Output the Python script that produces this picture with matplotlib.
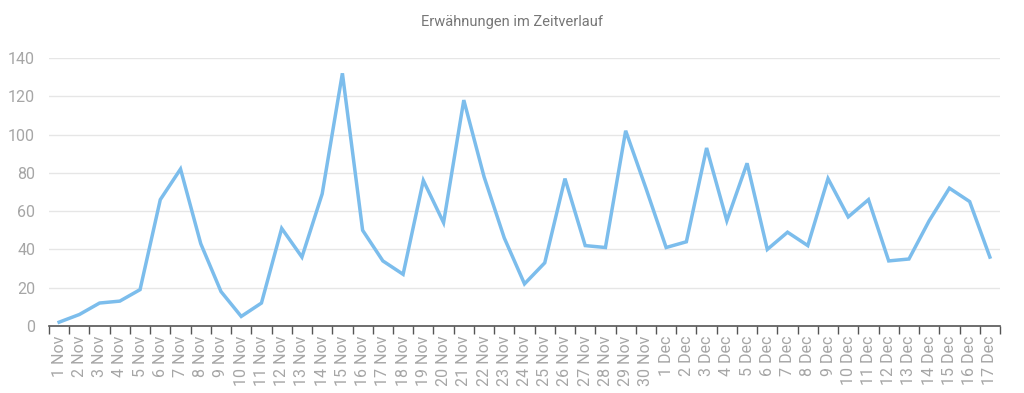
import matplotlib
matplotlib.use('Agg')
import matplotlib.pyplot as plt
import numpy as np

plt.rcParams['font.family'] = ['Roboto', 'DejaVu Sans']

days = [f"{d} Nov" for d in range(1, 31)] + [f"{d} Dec" for d in range(1, 18)]
mentions = [2, 6, 12, 13, 19, 66, 82, 43, 18, 5, 12, 51, 36, 69, 132, 50, 34, 27,
            76, 54, 118, 78, 46, 22, 33, 77, 42, 41, 102, 72,
            41, 44, 93, 55, 85, 40, 49, 42, 77, 57, 66, 34, 35, 55, 72, 65, 36]
y_ticks = [0, 20, 40, 60, 80, 100, 120, 140]

fig = plt.figure(figsize=(10.24, 3.93), dpi=100)
ax = fig.add_axes([49 / 1024, 1 - 326 / 393, (1000 - 49) / 1024, (326 - 58) / 393])

x = np.arange(len(days))
ax.plot(x, mentions, color='#7cbdec', linewidth=2.5, solid_joinstyle='miter')

ax.set_xlim(-0.5, len(days) - 0.5)
ax.set_ylim(0, 140)
ax.set_yticks(y_ticks)
ax.yaxis.grid(True, color='#e6e6e6', linewidth=1)
ax.set_axisbelow(True)

ax.set_xticks(x)
ax.set_xticklabels(days, rotation=90, fontsize=11.5, color='#a6a6a6')
ax.set_xticks(np.arange(-0.5, len(days)), minor=True)
ax.tick_params(axis='x', which='major', length=0, pad=7)
ax.tick_params(axis='x', which='minor', length=6, width=1, color='#555555')
ax.tick_params(axis='y', length=0, labelsize=11.5, labelcolor='#a6a6a6', pad=10)

for side in ['top', 'right', 'left']:
    ax.spines[side].set_visible(False)
ax.spines['bottom'].set_color('#555555')
ax.spines['bottom'].set_linewidth(1.2)

fig.text(0.5, 1 - 22 / 393, 'Erwähnungen im Zeitverlauf', ha='center', va='center',
         fontsize=10.5, color='#777777')

fig.savefig('out.png', dpi=100)
